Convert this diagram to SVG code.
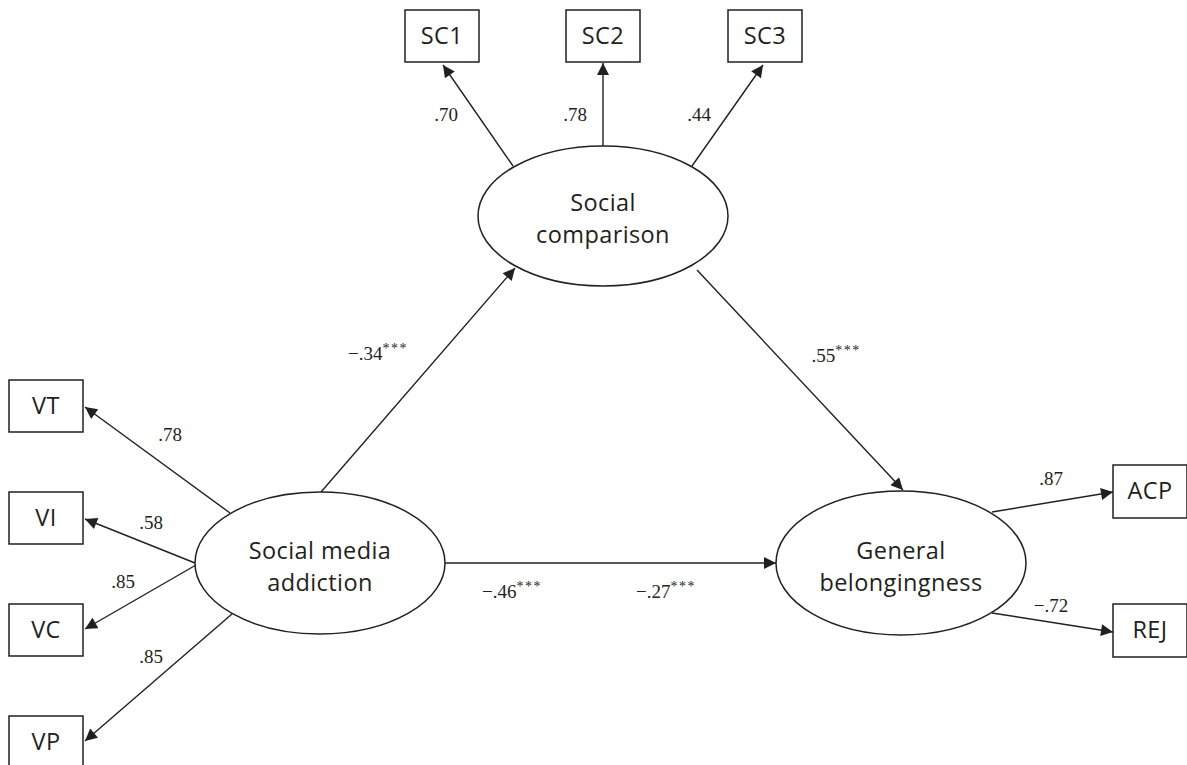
<svg xmlns="http://www.w3.org/2000/svg" width="1187" height="765" viewBox="0 0 1187 765">
<style>
.box{fill:#fff;stroke:#231f20;stroke-width:1.5}
.ell{fill:#fff;stroke:#231f20;stroke-width:1.5}
.lbl{font-family:"Open Sans","Noto Sans",sans-serif;font-size:23.5px;fill:#231f20;text-anchor:middle;letter-spacing:0.4px}
.num{font-family:"Liberation Serif",serif;font-size:19px;fill:#231f20;text-anchor:middle}
.ast{font-size:14px;letter-spacing:1.5px}
.con line{stroke:#231f20;stroke-width:1.4;marker-end:url(#ah)}
</style>
<defs>
<marker id="ah" viewBox="0 0 10 10" refX="10" refY="5" markerWidth="16" markerHeight="12" markerUnits="userSpaceOnUse" orient="auto">
<path d="M0,0 L10,5 L0,10 Z" fill="#231f20"/>
</marker>
</defs>
<rect width="1187" height="765" fill="#fff"/>
<g class="con">
<line x1="513" y1="166" x2="443" y2="65"/>
<line x1="603" y1="146" x2="603" y2="63"/>
<line x1="692" y1="166" x2="763" y2="65"/>
<line x1="321" y1="492" x2="515" y2="268"/>
<line x1="697" y1="270" x2="903" y2="490"/>
<line x1="444" y1="563" x2="776" y2="563"/>
<line x1="230" y1="513" x2="85" y2="407"/>
<line x1="195" y1="563" x2="85" y2="519"/>
<line x1="196" y1="565" x2="85" y2="629"/>
<line x1="232" y1="614" x2="85" y2="741"/>
<line x1="992" y1="512" x2="1113" y2="492"/>
<line x1="992" y1="613" x2="1113" y2="632"/>
</g>
<g class="num">
<text x="446" y="121">.70</text>
<text x="575" y="121">.78</text>
<text x="699" y="121">.44</text>
<text x="170" y="441">.78</text>
<text x="151" y="529">.58</text>
<text x="123" y="588">.85</text>
<text x="151" y="663">.85</text>
<text x="1051" y="485">.87</text>
<text x="1051" y="612">−.72</text>
<text x="378" y="360">−.34<tspan class="ast" dy="-7">***</tspan></text>
<text x="836" y="362">.55<tspan class="ast" dy="-7">***</tspan></text>
<text x="512" y="598">−.46<tspan class="ast" dy="-7">***</tspan></text>
<text x="666" y="598">−.27<tspan class="ast" dy="-7">***</tspan></text>
</g>
<g id="SC1"><rect class="box" x="405" y="10" width="74" height="52"/><text class="lbl" x="442" y="44">SC1</text></g>
<g id="SC2"><rect class="box" x="566" y="10" width="74" height="52"/><text class="lbl" x="603" y="44">SC2</text></g>
<g id="SC3"><rect class="box" x="728" y="10" width="74" height="52"/><text class="lbl" x="765" y="44">SC3</text></g>
<g id="VT"><rect class="box" x="9" y="380" width="74" height="52"/><text class="lbl" x="46" y="414">VT</text></g>
<g id="VI"><rect class="box" x="9" y="492" width="74" height="52"/><text class="lbl" x="46" y="526">VI</text></g>
<g id="VC"><rect class="box" x="9" y="604" width="74" height="52"/><text class="lbl" x="46" y="638">VC</text></g>
<g id="VP"><rect class="box" x="9" y="716" width="74" height="52"/><text class="lbl" x="46" y="750">VP</text></g>
<g id="ACP"><rect class="box" x="1113" y="465" width="74" height="53"/><text class="lbl" x="1150" y="499">ACP</text></g>
<g id="REJ"><rect class="box" x="1113" y="604" width="74" height="53"/><text class="lbl" x="1150" y="638">REJ</text></g>
<g id="SocialComparison"><ellipse class="ell" cx="603" cy="216" rx="125" ry="70"/><text class="lbl" x="603" y="211">Social</text><text class="lbl" x="603" y="243">comparison</text></g>
<g id="SocialMediaAddiction"><ellipse class="ell" cx="320" cy="563" rx="125" ry="71"/><text class="lbl" x="320" y="559">Social media</text><text class="lbl" x="320" y="591">addiction</text></g>
<g id="GeneralBelongingness"><ellipse class="ell" cx="901" cy="563" rx="125" ry="72"/><text class="lbl" x="901" y="559">General</text><text class="lbl" x="901" y="591">belongingness</text></g>
</svg>
